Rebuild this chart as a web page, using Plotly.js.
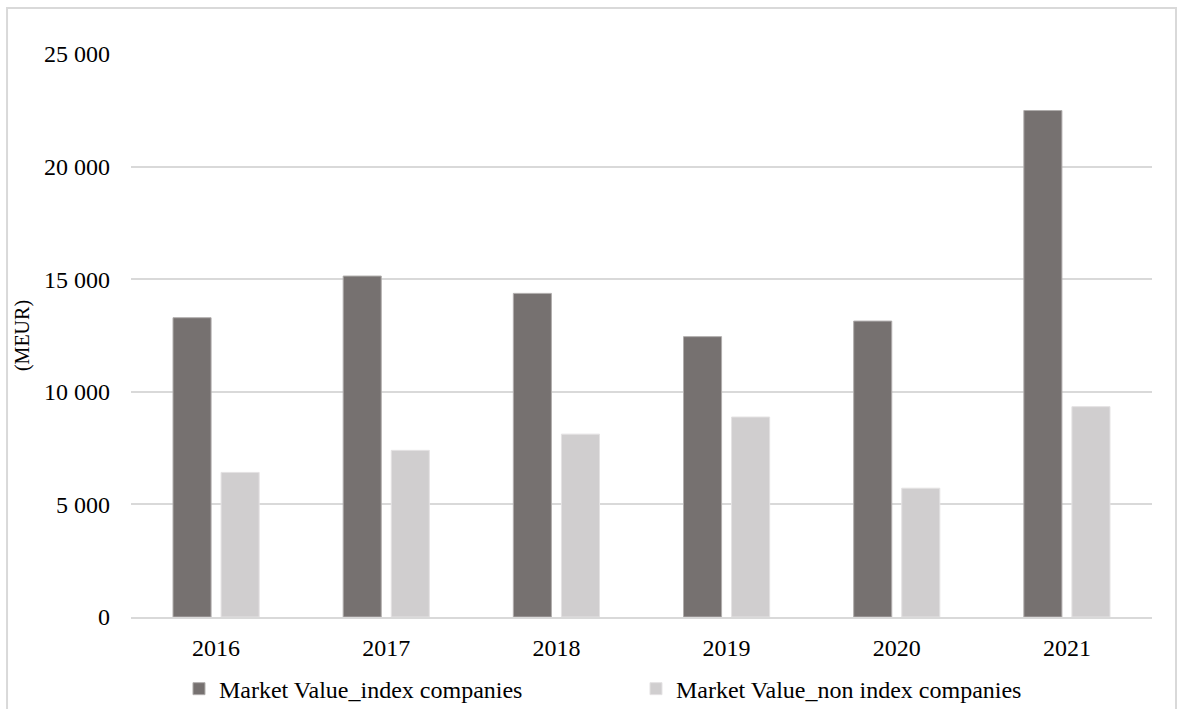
<!DOCTYPE html>
<html>
<head>
<meta charset="utf-8">
<script src="https://cdn.plot.ly/plotly-3.0.1.min.js"></script>
<style>
html,body{margin:0;padding:0;background:#fff;}
#chart{width:1177px;height:709px;}
</style>
</head>
<body>
<div id="chart"></div>
<script>
var years = ['2016', '2017', '2018', '2019', '2020', '2021'];
var indexCompanies = [13290, 15140, 14370, 12450, 13140, 22490];
var nonIndexCompanies = [6420, 7400, 8120, 8880, 5720, 9340];
var seriesNames = ['Market Value_index companies', 'Market Value_non index companies'];
var yTicks = [0, 5000, 10000, 15000, 20000, 25000];

var FONT = "'Liberation Serif', 'Times New Roman', serif";

var traces = [
  {type: 'bar', x: years, y: indexCompanies, name: seriesNames[0],
   marker: {color: '#767170', line: {color: '#b0adac', width: 1}}},
  {type: 'bar', x: years, y: nonIndexCompanies, name: seriesNames[1],
   marker: {color: '#d0cecf', line: {color: '#e4e2e3', width: 1}}}
];

var layout = {
  width: 1177, height: 709,
  margin: {l: 131, r: 25, t: 54, b: 92, autoexpand: false},
  paper_bgcolor: '#ffffff', plot_bgcolor: '#ffffff',
  separators: '. ',
  font: {family: FONT, size: 24, color: '#000000'},
  barmode: 'group',
  bargap: 0.435,
  bargroupgap: 0.208,
  xaxis: {
    type: 'category',
    showgrid: false, zeroline: false,
    showline: true, linecolor: '#d9d9d9', linewidth: 2,
    ticks: '', ticklabelstandoff: 8,
    tickfont: {family: FONT, size: 24, color: '#000'}
  },
  yaxis: {
    range: [0, 25000],
    tickvals: yTicks,
    tickformat: ',d',
    showgrid: true, gridcolor: '#d9d9d9', gridwidth: 2,
    zeroline: false, showline: false,
    ticks: '', ticklabelstandoff: 20,
    tickfont: {family: FONT, size: 24, color: '#000'},
    title: {text: '(MEUR)', font: {family: FONT, size: 20, color: '#000'}, standoff: 9}
  },
  showlegend: true,
  legend: {
    orientation: 'h',
    x: 0.047, xanchor: 'left',
    y: -0.128, yanchor: 'middle',
    entrywidth: 412, entrywidthmode: 'pixels',
    font: {family: FONT, size: 24, color: '#000'},
    bgcolor: 'rgba(0,0,0,0)'
  },
  shapes: [{
    type: 'rect', xref: 'paper', yref: 'paper',
    x0: -0.1214, x1: 1.0235, y0: -0.35, y1: 1.0817,
    line: {color: '#d9d9d9', width: 2}, fillcolor: 'rgba(0,0,0,0)', layer: 'below'
  }]
};

Plotly.newPlot('chart', traces, layout, {displayModeBar: false, staticPlot: true});
</script>
</body>
</html>
